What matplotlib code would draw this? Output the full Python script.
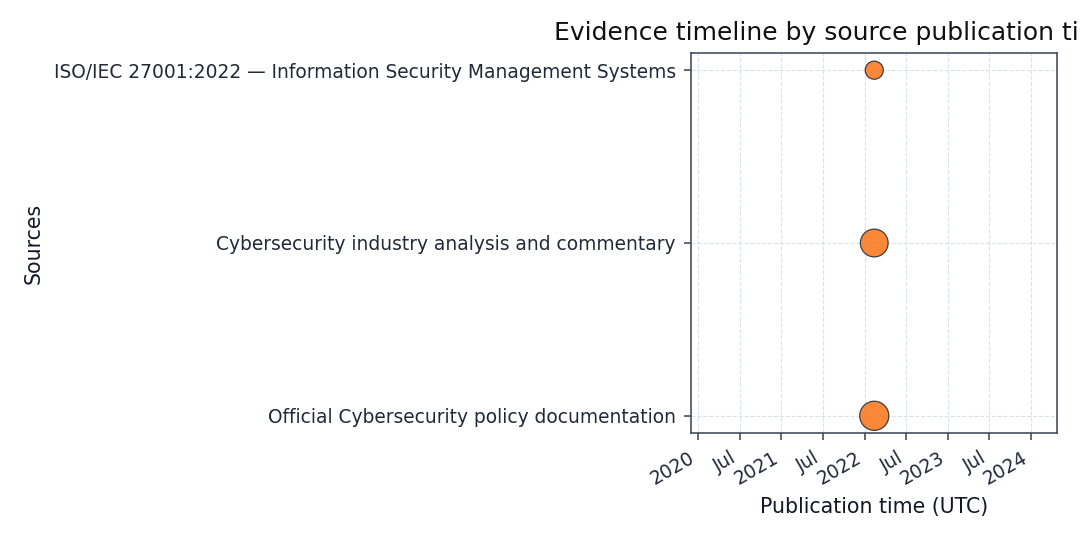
import matplotlib
matplotlib.use("Agg")
import matplotlib.pyplot as plt
import matplotlib.dates as mdates
import pandas as pd

# data
sources = [
    "Official Cybersecurity policy documentation",
    "Cybersecurity industry analysis and commentary",
    "ISO/IEC 27001:2022 \u2014 Information Security Management Systems",
]
published = pd.to_datetime(["2022-02-12", "2022-02-12", "2022-02-12"])
sizes = [440, 400, 170]

ink = "#1f2937"
spine = "#374151"

fig, ax = plt.subplots(figsize=(10.8, 5.4), dpi=100)
fig.subplots_adjust(left=0.640, right=0.979, top=0.902, bottom=0.198)

ax.grid(True, color="#dbe1ea", linestyle="--", linewidth=0.8)
ax.set_axisbelow(True)
ax.scatter(published, sources, s=sizes, color="#f97316", alpha=0.85,
           edgecolor=ink, linewidth=0.9, zorder=3)

locator = mdates.AutoDateLocator()
ax.xaxis.set_major_locator(locator)
ax.xaxis.set_major_formatter(mdates.ConciseDateFormatter(locator))
plt.setp(ax.get_xticklabels(), rotation=30, ha="right")

for s in ax.spines.values():
    s.set_color(spine)
    s.set_linewidth(1.1)
ax.tick_params(colors=spine, labelcolor=ink, labelsize=13.45,
               length=5, width=1.1, pad=6)

ax.set_title("Evidence timeline by source publication time (UTC)",
             fontsize=18, color="#111111", pad=9)
ax.set_xlabel("Publication time (UTC)", fontsize=14.8, color="#111827",
              labelpad=6)
ax.set_ylabel("Sources", fontsize=14.8, color="#111827", labelpad=7)

fig.savefig("out.png")
